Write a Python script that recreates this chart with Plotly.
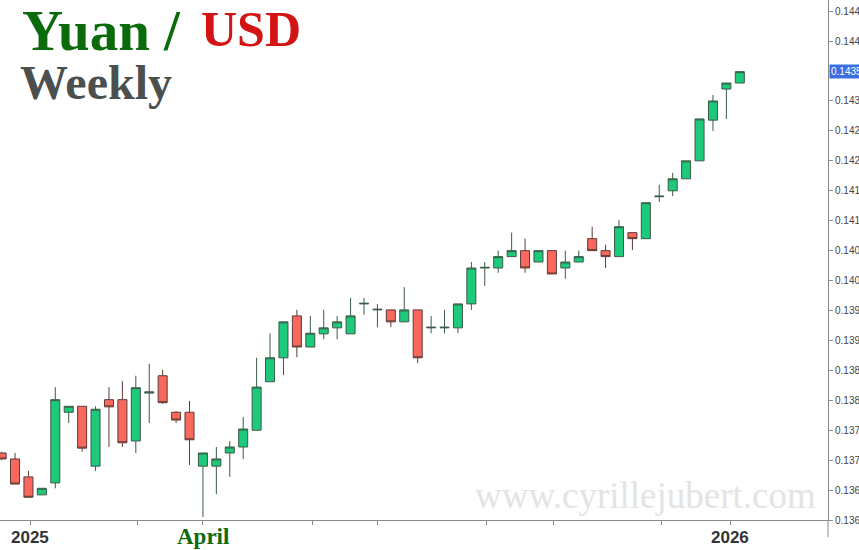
import pandas as pd
import plotly.graph_objects as go

# weekly candles, first one dated 2024-12-17
start_week = "2024-12-17"
n_weeks = 56

opens = [0.13712, 0.13702, 0.13672, 0.13642, 0.13662, 0.13780, 0.13790, 0.13690,
         0.13801, 0.13801, 0.13732, 0.13812, 0.13841, 0.13780, 0.13780, 0.13690,
         0.13690, 0.13712, 0.13722, 0.13750, 0.13831, 0.13871, 0.13941, 0.13889,
         0.13911, 0.13921, 0.13911, 0.13961, 0.13951, 0.13951, 0.13931, 0.13951,
         0.13921, 0.13921, 0.13921, 0.13961, 0.14021, 0.14021, 0.14040, 0.14050,
         0.14031, 0.14050, 0.14021, 0.14031, 0.14070, 0.14050, 0.14040, 0.14080,
         0.14070, 0.14140, 0.14150, 0.14170, 0.14200, 0.14268, 0.14320, 0.14330]
highs = [0.13714, 0.13712, 0.13682, 0.13653, 0.13822, 0.13790, 0.13790, 0.13790,
         0.13822, 0.13832, 0.13841, 0.13861, 0.13851, 0.13782, 0.13799, 0.13712,
         0.13722, 0.13732, 0.13772, 0.13871, 0.13912, 0.13931, 0.13951, 0.13941,
         0.13951, 0.13941, 0.13971, 0.13971, 0.13961, 0.13951, 0.13989, 0.13951,
         0.13941, 0.13951, 0.13961, 0.14031, 0.14031, 0.14050, 0.14080, 0.14070,
         0.14050, 0.14050, 0.14050, 0.14050, 0.14090, 0.14060, 0.14101, 0.14080,
         0.14130, 0.14160, 0.14180, 0.14200, 0.14270, 0.14310, 0.14330, 0.14349]
lows = [0.13700, 0.13660, 0.13638, 0.13642, 0.13653, 0.13762, 0.13714, 0.13682,
        0.13722, 0.13722, 0.13712, 0.13762, 0.13794, 0.13762, 0.13692, 0.13605,
        0.13643, 0.13672, 0.13702, 0.13750, 0.13831, 0.13842, 0.13872, 0.13889,
        0.13902, 0.13902, 0.13911, 0.13943, 0.13922, 0.13922, 0.13931, 0.13862,
        0.13912, 0.13912, 0.13912, 0.13951, 0.13991, 0.14013, 0.14040, 0.14013,
        0.14031, 0.14011, 0.14003, 0.14031, 0.14050, 0.14021, 0.14040, 0.14051,
        0.14070, 0.14131, 0.14141, 0.14170, 0.14200, 0.14250, 0.14270, 0.14330]
closes = [0.13702, 0.13660, 0.13638, 0.13653, 0.13801, 0.13790, 0.13720, 0.13785,
          0.13789, 0.13729, 0.13821, 0.13814, 0.13796, 0.13767, 0.13734, 0.13712,
          0.13702, 0.13722, 0.13752, 0.13822, 0.13871, 0.13931, 0.13889, 0.13912,
          0.13921, 0.13931, 0.13941, 0.13962, 0.13952, 0.13931, 0.13951, 0.13871,
          0.13922, 0.13922, 0.13961, 0.14021, 0.14022, 0.14040, 0.14050, 0.14021,
          0.14050, 0.14011, 0.14031, 0.14040, 0.14050, 0.14040, 0.14090, 0.14070,
          0.14130, 0.14141, 0.14170, 0.14200, 0.14270, 0.14300, 0.14330, 0.14349]

y_ticks = [0.1360 + 0.0005 * i for i in range(18)]
x_tick_dates = ["2025-01-01", "2025-02-26", "2025-04-01", "2025-05-28", "2025-07-01",
                "2025-08-27", "2025-10-01", "2025-11-26", "2026-01-01"]
last_price = "0.1435"

dates = pd.date_range(start_week, periods=n_weeks, freq="7D")

fig = go.Figure()
fig.add_trace(go.Candlestick(
    x=dates, open=opens, high=highs, low=lows, close=closes,
    increasing=dict(fillcolor="#1dc97b", line=dict(color="#3c5a48", width=1)),
    decreasing=dict(fillcolor="#f8685c", line=dict(color="#5e3a36", width=1)),
    whiskerwidth=0,
    showlegend=False,
    hoverinfo="skip",
))

serif = "Liberation Serif, Times New Roman, serif"
sans = "Liberation Sans, Arial, sans-serif"

annotations = [
    dict(text="<b>Yuan /</b>", x=20 / 828, y=1.006, xref="paper", yref="paper",
         xanchor="left", yanchor="top", showarrow=False,
         font=dict(family=serif, size=57, color="#0b6b0b")),
    dict(text="<b>USD</b>", x=199 / 828, y=1.001, xref="paper", yref="paper",
         xanchor="left", yanchor="top", showarrow=False,
         font=dict(family=serif, size=50, color="#d41414")),
    dict(text="<b>Weekly</b>", x=18 / 828, y=0.897, xref="paper", yref="paper",
         xanchor="left", yanchor="top", showarrow=False,
         font=dict(family=serif, size=48, color="#4b4f4e")),
    dict(text="www.cyrillejubert.com", x=818 / 828, y=0.004, xref="paper", yref="paper",
         xanchor="right", yanchor="bottom", showarrow=False,
         font=dict(family=serif, size=37, color="#e4e4e4")),
    dict(text="<b>2025</b>", x="2025-01-01", y=-0.012, xref="x", yref="paper",
         xanchor="center", yanchor="top", showarrow=False,
         font=dict(family=sans, size=17, color="#333333")),
    dict(text="<b>April</b>", x="2025-04-01", y=-0.004, xref="x", yref="paper",
         xanchor="center", yanchor="top", showarrow=False,
         font=dict(family=serif, size=23, color="#0b6b0b")),
    dict(text="<b>2026</b>", x="2026-01-01", y=-0.012, xref="x", yref="paper",
         xanchor="center", yanchor="top", showarrow=False,
         font=dict(family=sans, size=17, color="#333333")),
    dict(text=last_price, x=1, y=closes[-1], xref="paper", yref="y",
         xanchor="left", yanchor="middle", showarrow=False, xshift=1,
         bgcolor="#3b6ee0", borderpad=1,
         font=dict(family=sans, size=10, color="white")),
]

fig.update_layout(
    width=859, height=550,
    margin=dict(l=0, r=31, t=0, b=30),
    paper_bgcolor="white", plot_bgcolor="white",
    boxgap=0.18, boxgroupgap=0.18,
    annotations=annotations,
    shapes=[dict(type="line", xref="paper", yref="paper", x0=1, x1=1, y0=-0.033, y1=0,
                 line=dict(color="#8a8a8a", width=1))],
    xaxis=dict(
        type="date",
        range=["2024-12-16 04:00", "2026-02-21"],
        rangeslider=dict(visible=False),
        showgrid=False, zeroline=False, automargin=False,
        showline=True, linecolor="#8a8a8a", linewidth=1,
        ticks="outside", ticklen=4, tickcolor="#8a8a8a",
        tickvals=x_tick_dates, showticklabels=False,
    ),
    yaxis=dict(
        side="right",
        range=[0.1360, 0.144687],
        showgrid=False, zeroline=False, automargin=False,
        showline=True, linecolor="#8a8a8a", linewidth=1,
        ticks="outside", ticklen=4, tickcolor="#8a8a8a",
        tickvals=y_ticks, tickformat=".4f",
        tickfont=dict(family=sans, size=10, color="#444444"),
    ),
)

# drop the browser's default body margin so the figure sits at the page corner
fig.write_html("out.html", config={"displayModeBar": False},
               post_script="document.body.style.margin='0';")
